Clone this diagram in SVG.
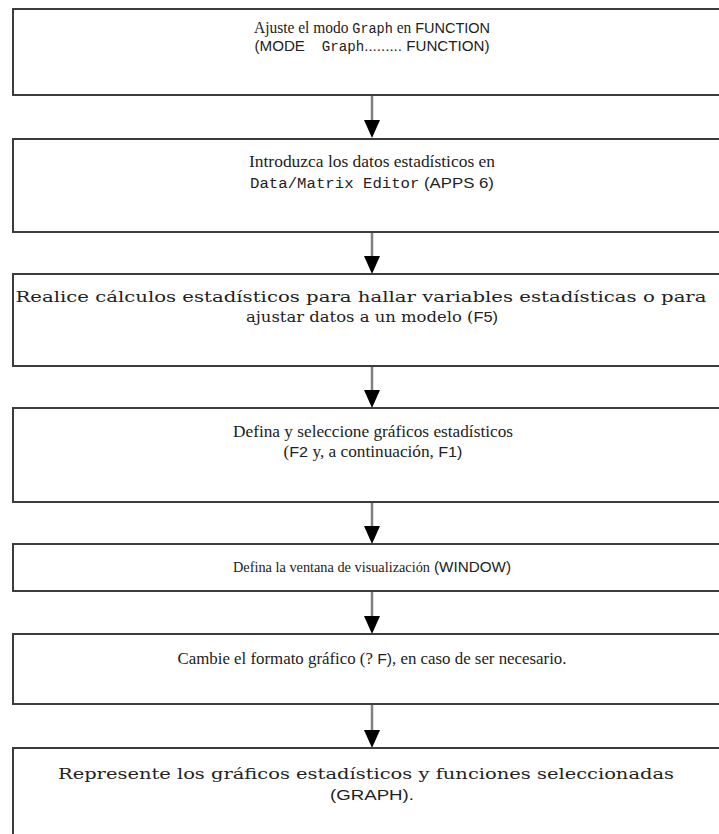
<svg xmlns="http://www.w3.org/2000/svg" width="719" height="834" viewBox="0 0 719 834">
<style>
.box{fill:#fff;stroke:#3c3c3c;stroke-width:2}
.t{font-family:"Liberation Serif","Times New Roman",serif;font-size:16px;fill:#222;text-anchor:middle}
.w{font-family:"DejaVu Serif","Liberation Serif",serif;font-size:15px}
.s{font-family:"Liberation Sans",Arial,sans-serif;font-size:15px}
.m{font-family:"Liberation Mono","DejaVu Sans Mono",monospace;font-size:14px}
.c{stroke:#808080;stroke-width:2.5;fill:none}
.h{fill:#000}
</style>
<rect x="0" y="0" width="719" height="834" fill="#fff"/>
<g id="connectors">
<line class="c" x1="372" y1="95" x2="372" y2="122"/>
<line class="c" x1="372" y1="232" x2="372" y2="258"/>
<line class="c" x1="372" y1="366" x2="372" y2="392"/>
<line class="c" x1="372" y1="502" x2="372" y2="528"/>
<line class="c" x1="372" y1="591" x2="372" y2="618"/>
<line class="c" x1="372" y1="704" x2="372" y2="732"/>
<path class="h" d="M364,120 L380,120 L372,138 Z"/>
<path class="h" d="M364,256 L380,256 L372,274 Z"/>
<path class="h" d="M364,390 L380,390 L372,408 Z"/>
<path class="h" d="M364,526 L380,526 L372,544 Z"/>
<path class="h" d="M364,616 L380,616 L372,634 Z"/>
<path class="h" d="M364,730 L380,730 L372,748 Z"/>
</g>
<g id="n1">
<rect class="box" x="13" y="9" width="730" height="86"/>
<text class="t" x="372" y="33" textLength="236" lengthAdjust="spacingAndGlyphs">Ajuste el modo <tspan class="m">Graph</tspan> en <tspan class="s">FUNCTION</tspan></text>
<text class="t s" x="372" y="51" textLength="235" lengthAdjust="spacingAndGlyphs" xml:space="preserve">(MODE    <tspan class="m">Graph</tspan>......... FUNCTION)</text>
</g>
<g id="n2">
<rect class="box" x="13" y="139" width="730" height="93"/>
<text class="t" x="372" y="167" textLength="246" lengthAdjust="spacingAndGlyphs">Introduzca los datos estadísticos en</text>
<text class="t" x="372" y="188" textLength="244" lengthAdjust="spacingAndGlyphs"><tspan class="m">Data/Matrix Editor</tspan> <tspan class="s">(APPS 6)</tspan></text>
</g>
<g id="n3">
<rect class="box" x="13" y="274" width="730" height="92"/>
<text class="t w" x="361" y="302" textLength="691" lengthAdjust="spacingAndGlyphs">Realice cálculos estadísticos para hallar variables estadísticas o para</text>
<text class="t w" x="372" y="322" textLength="252" lengthAdjust="spacingAndGlyphs">ajustar datos a un modelo (<tspan class="s">F5)</tspan></text>
</g>
<g id="n4">
<rect class="box" x="13" y="408" width="730" height="94"/>
<text class="t" x="373" y="437" textLength="280" lengthAdjust="spacingAndGlyphs">Defina y seleccione gráficos estadísticos</text>
<text class="t" x="373" y="457" textLength="179" lengthAdjust="spacingAndGlyphs">(<tspan class="s">F2</tspan> y, a continuación, <tspan class="s">F1)</tspan></text>
</g>
<g id="n5">
<rect class="box" x="13" y="544" width="730" height="47"/>
<text class="t" x="233" y="572" style="text-anchor:start;font-size:14.5px" textLength="197" lengthAdjust="spacingAndGlyphs">Defina la ventana de visualización</text>
<text class="t s" x="434" y="572" style="text-anchor:start;font-size:14px" textLength="77" lengthAdjust="spacingAndGlyphs">(WINDOW)</text>
</g>
<g id="n6">
<rect class="box" x="13" y="634" width="730" height="70"/>
<text class="t" x="372" y="664" textLength="389" lengthAdjust="spacingAndGlyphs">Cambie el formato gráfico (? <tspan class="s">F)</tspan>, en caso de ser necesario.</text>
</g>
<g id="n7">
<rect class="box" x="13" y="748" width="730" height="100"/>
<text class="t w" x="366" y="779" textLength="616" lengthAdjust="spacingAndGlyphs">Represente los gráficos estadísticos y funciones seleccionadas</text>
<text class="t s" x="372" y="800" textLength="84" lengthAdjust="spacingAndGlyphs">(GRAPH).</text>
</g>
</svg>
